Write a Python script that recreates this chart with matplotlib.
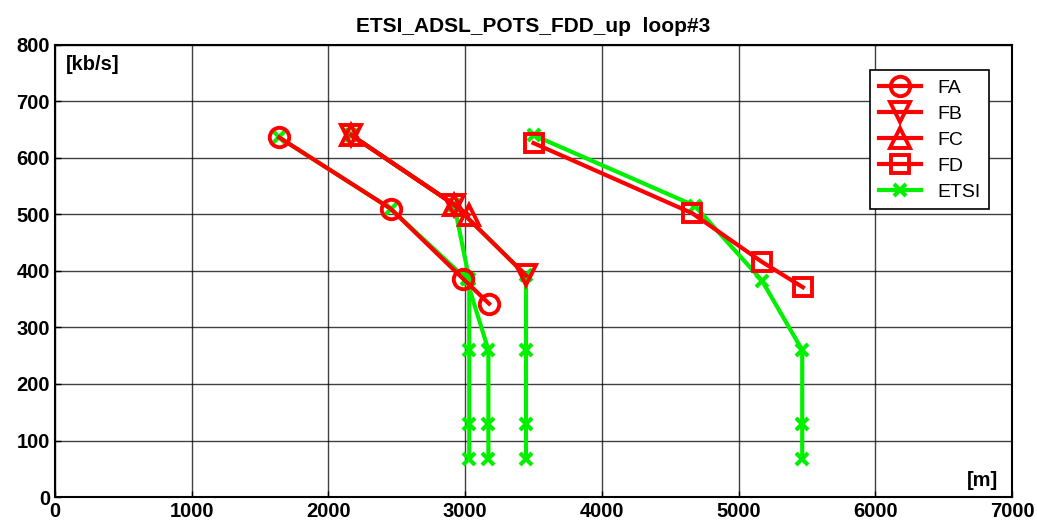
import matplotlib.pyplot as plt

plt.rcParams['font.family'] = ['Liberation Sans', 'DejaVu Sans']

# loop#3 results, distance [m] vs upstream rate [kb/s]
dist_fa = [1640, 2455, 2985, 3175]
rate_fa = [636, 510, 386, 342]
dist_fb = [2168, 2920, 3445]
rate_fb = [640, 517, 392]
dist_fc = [2168, 2920, 3025]
rate_fc = [640, 517, 499]
dist_fd = [3500, 4660, 5170, 5470]
rate_fd = [626, 502, 416, 371]

# ETSI reference curves (one per model)
etsi_dist = [
    [1640, 2455, 3010, 3170, 3170, 3170],
    [2168, 2920, 3445, 3445, 3445, 3445],
    [2168, 2920, 3030, 3030, 3030, 3030],
    [3500, 4680, 5170, 5465, 5465, 5465],
]
etsi_rate = [
    [636, 510, 385, 260, 130, 68],
    [640, 517, 392, 260, 130, 68],
    [640, 517, 385, 260, 130, 68],
    [640, 515, 383, 260, 130, 68],
]

xticks = [0, 1000, 2000, 3000, 4000, 5000, 6000, 7000]
yticks = [0, 100, 200, 300, 400, 500, 600, 700, 800]

fig = plt.figure(figsize=(10.37, 5.26), dpi=100)
ax = fig.add_axes([0.053, 0.055, 0.923, 0.860])

red = '#ff0000'
green = '#00f000'
kw = dict(color=red, lw=3, mfc='none', mec=red, mew=2.8, zorder=3)

ax.plot(dist_fa, rate_fa, marker='o', ms=14, label='FA', **kw)
ax.plot(dist_fb, rate_fb, marker='v', ms=15, label='FB', **kw)
ax.plot(dist_fc, rate_fc, marker='^', ms=15, label='FC', **kw)
ax.plot(dist_fd, rate_fd, marker='s', ms=13, label='FD', **kw)
for i in range(len(etsi_dist)):
    ax.plot(etsi_dist[i], etsi_rate[i], color=green, lw=3, marker='x', ms=8, mew=3,
            zorder=2, label='ETSI' if i == 0 else None)

ax.set_xlim(0, 7000)
ax.set_ylim(0, 800)
ax.set_xticks(xticks)
ax.set_yticks(yticks)
ax.tick_params(labelsize=14.5, direction='in', length=4, width=1)
for lab in ax.get_xticklabels() + ax.get_yticklabels():
    lab.set_fontweight('bold')
ax.grid(True, color='black', lw=1, alpha=0.75)
for s in ax.spines.values():
    s.set_linewidth(1.5)

ax.set_title('ETSI_ADSL_POTS_FDD_up  loop#3', fontsize=15, fontweight='bold', pad=9)
ax.text(0.011, 0.978, '[kb/s]', transform=ax.transAxes, fontsize=14.5,
        fontweight='bold', va='top', ha='left')
ax.text(0.985, 0.015, '[m]', transform=ax.transAxes, fontsize=14.5,
        fontweight='bold', va='bottom', ha='right')

leg = ax.legend(loc='upper right', bbox_to_anchor=(0.986, 0.965), fontsize=14,
                fancybox=False, framealpha=1, edgecolor='black', handlelength=2.2,
                borderpad=0.45, labelspacing=0.43)
leg.get_frame().set_linewidth(1.2)

plt.savefig('out.png', dpi=100)
